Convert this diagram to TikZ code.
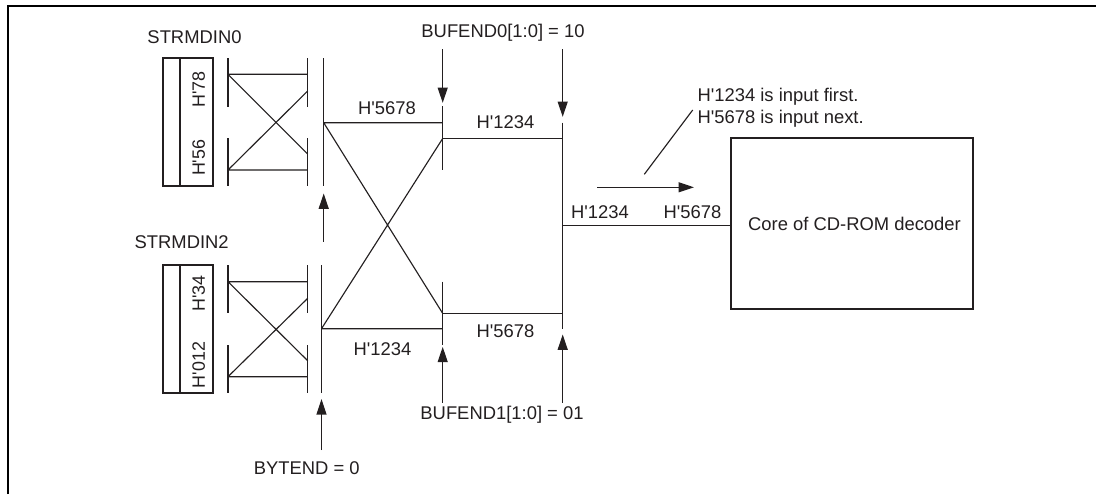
\documentclass[tikz,border=0pt]{standalone}
\usepackage{fontspec}
\setmainfont{Liberation Sans}
\usetikzlibrary{arrows.meta}
\definecolor{ink}{HTML}{231F20}
\newcommand{\qs}{\textquotesingle}
\tikzset{
  wire/.style={draw=ink,line width=0.85pt},
  heavy/.style={draw=ink,line width=1.5pt},
  frameline/.style={draw=black,line width=1.4pt},
  sig/.style={wire,-{Triangle[length=11.5pt,width=7.5pt,fill=ink]},shorten >=2pt},
  lbl/.style={inner sep=0pt,text=ink,font=\fontsize{13.8}{16}\selectfont},
  vlbl/.style={lbl,rotate=90,font=\fontsize{13.4}{16}\selectfont}
}
\begin{document}
\begin{tikzpicture}[x=0.75pt,y=-0.75pt]
\useasboundingbox (0,0) rectangle (1096,494);
\fill[white] (0,0) rectangle (1096,494);
\draw[frameline] (8,494) -- (8,6) -- (1096,6);
% registers
\node[draw=ink,line width=1.5pt,minimum width=49.4*0.75pt,minimum height=127.7*0.75pt,inner sep=0pt] (reg0) at (188,122.2) {};
\node[draw=ink,line width=1.5pt,minimum width=49.4*0.75pt,minimum height=128.3*0.75pt,inner sep=0pt] (reg2) at (188,329.2) {};
\draw[heavy] (180.3,58.3) -- (180.3,186);
\draw[heavy] (180.3,265) -- (180.3,393.3);
\node[vlbl] (h78) at (198.8,89.5) {H\qs78};
\node[vlbl] (h56) at (198.8,157.8) {H\qs56};
\node[vlbl] (h34) at (198.8,293.3) {H\qs34};
\node[vlbl] (h012) at (198.8,365) {H\qs012};
\node[lbl] (t0) at (194.5,37.3) {STRMDIN0};
\node[lbl] (t2) at (181.7,241.7) {STRMDIN2};
% crossbars top
\coordinate (a1) at (228,74.3); \coordinate (a2) at (228,170);
\coordinate (b1) at (307.7,74.3); \coordinate (b2) at (307.7,170);
\coordinate (b3) at (307.7,154); \coordinate (b4) at (307.7,91);
\draw[wire] (228,58.3) -- (228,106.7) (228,138.3) -- (228,186);
\draw[wire] (307.7,58.3) -- (307.7,106.7) (307.7,138.3) -- (307.7,186);
\draw[wire] (a1) -- (b1) (a2) -- (b2) (a1) -- (b3) (a2) -- (b4);
% crossbars bottom
\coordinate (c1) at (228,281.7); \coordinate (c2) at (228,376.7);
\coordinate (d1) at (307.7,281.7); \coordinate (d2) at (307.7,376.7);
\coordinate (d3) at (307.7,360.7); \coordinate (d4) at (307.7,298.3);
\draw[wire] (228,265) -- (228,313.3) (228,345) -- (228,393.3);
\draw[wire] (307.7,265) -- (307.7,313.3) (307.7,345) -- (307.7,393.3);
\draw[wire] (c1) -- (d1) (c2) -- (d2) (c1) -- (d3) (c2) -- (d4);
% byte bars
\coordinate (e0) at (323.7,122.7); \coordinate (e2) at (321.5,328.7);
\coordinate (f0) at (442.7,122.7); \coordinate (f1) at (442.7,138.45);
\coordinate (f2) at (442.7,313.4); \coordinate (f3) at (442.7,328.7);
\draw[wire] (323.7,58.3) -- (323.7,186);
\draw[wire] (321.5,265) -- (321.5,393.3);
\draw[wire] (e0) -- (f0) (e2) -- (f3) (e0) -- (f2) (e2) -- (f1);
\draw[wire] (442.7,106) -- (442.7,170);
\draw[wire] (442.7,281.7) -- (442.7,345);
% output bus
\coordinate (g1) at (562.7,138.45); \coordinate (g2) at (562.7,313.4); \coordinate (g3) at (562.7,225.8);
\draw[wire] (562.7,122.7) -- (562.7,329.3);
\draw[wire] (f1) -- (g1) (f2) -- (g2);
\node[draw=ink,line width=1.5pt,minimum width=242.6*0.75pt,minimum height=170.4*0.75pt,inner sep=0pt] (core) at (852,223.5) {};
\node[lbl] (corelabel) at (854.5,224) {Core of CD-ROM decoder};
\draw[wire] (g3) -- (core.west |- g3);
% arrows
\coordinate (p1) at (323.7,241.7); \coordinate (q1) at (323.7,190.8);
\coordinate (p2) at (321.5,450); \coordinate (q2) at (321.5,396.5);
\coordinate (p3) at (442.7,49); \coordinate (q3) at (442.7,105.5);
\coordinate (p4) at (562.7,49); \coordinate (q4) at (562.7,119.5);
\coordinate (p5) at (442.7,402.7); \coordinate (q5) at (442.7,344.2);
\coordinate (p6) at (562.7,402.7); \coordinate (q6) at (562.7,331.8);
\coordinate (p7) at (597.3,187.3); \coordinate (q7) at (696.6,187.3);
\coordinate (p8) at (692.7,110); \coordinate (q8) at (644.3,174.3);
\foreach \u/\v in {p1/q1,p2/q2,p3/q3,p4/q4,p5/q5,p6/q6,p7/q7} \draw[sig] (\u) -- (\v);
\draw[wire] (p8) -- (q8);
% labels
\node[lbl] (bt) at (306.7,468.3) {BYTEND = 0};
\node[lbl] (b0) at (503,32.7) {BUFEND0[1:0] = 10};
\node[lbl] (b1) at (502,414.3) {BUFEND1[1:0] = 01};
\node[lbl] (l1) at (387,107.7) {H\qs5678};
\node[lbl] (l2) at (382.5,349.3) {H\qs1234};
\node[lbl] (l3) at (505.5,122.3) {H\qs1234};
\node[lbl] (l4) at (505.5,330.7) {H\qs5678};
\node[lbl] (l5) at (600,211.7) {H\qs1234};
\node[lbl] (l6) at (692.5,211.7) {H\qs5678};
\node[lbl,anchor=west] (n1) at (697.3,96.7) {H\qs1234 is input first.};
\node[lbl,anchor=west] (n2) at (697.3,119) {H\qs5678 is input next.};
\end{tikzpicture}
\end{document}
